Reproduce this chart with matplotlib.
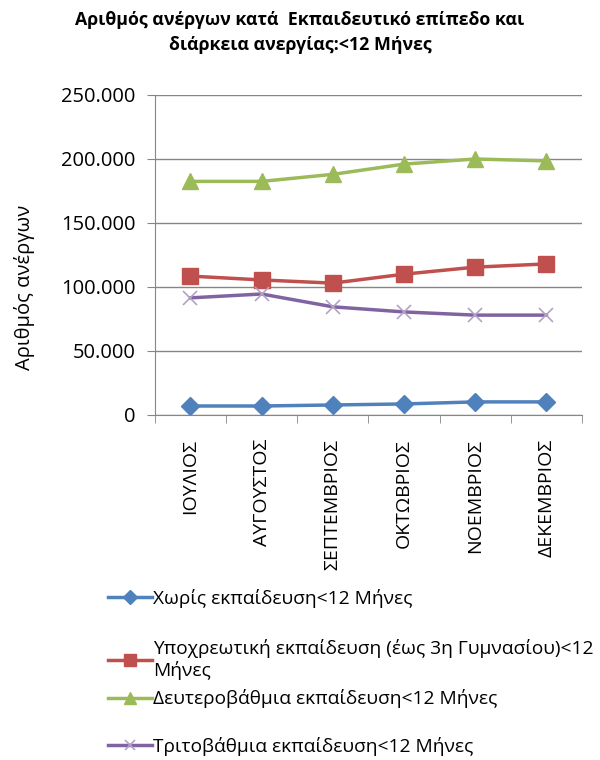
import matplotlib.pyplot as plt
from matplotlib.ticker import FuncFormatter, FixedLocator
from matplotlib.lines import Line2D

plt.rcParams['font.family'] = ['Open Sans', 'DejaVu Sans']

months = ['ΙΟΥΛΙΟΣ', 'ΑΥΓΟΥΣΤΟΣ', 'ΣΕΠΤΕΜΒΡΙΟΣ', 'ΟΚΤΩΒΡΙΟΣ', 'ΝΟΕΜΒΡΙΟΣ', 'ΔΕΚΕΜΒΡΙΟΣ']
no_edu = [7000, 7000, 7800, 8600, 10200, 10200]
compulsory = [108500, 105500, 103000, 110000, 115500, 118000]
secondary = [182500, 182500, 188000, 196000, 200000, 198500]
tertiary = [91500, 94500, 84500, 80500, 78000, 78000]

labels = ['Χωρίς εκπαίδευση<12 Μήνες',
          'Υποχρεωτική εκπαίδευση (έως 3η Γυμνασίου)<12\nΜήνες',
          'Δευτεροβάθμια εκπαίδευση<12 Μήνες',
          'Τριτοβάθμια εκπαίδευση<12 Μήνες']

fig = plt.figure(figsize=(6, 7.6), dpi=100)
ax = fig.add_axes([0.258, 0.454, 0.712, 0.421])

x = list(range(len(months)))
l1, = ax.plot(x, no_edu, color='#4F81BD', lw=2.5, marker='D', ms=9,
              mfc='#4F81BD', mec='#4F81BD')
l2, = ax.plot(x, compulsory, color='#C0504D', lw=2.5, marker='s', ms=11,
              mfc='#C0504D', mec='#C0504D')
l3, = ax.plot(x, secondary, color='#9BBB59', lw=2.5, marker='^', ms=12,
              mfc='#9BBB59', mec='#9BBB59')
l4, = ax.plot(x, tertiary, color='#8064A2', lw=2.5, marker='x', ms=10,
              mec='#B3A2C7', mew=1.2)

ax.set_xlim(-0.5, len(months) - 0.5)
ax.set_ylim(0, 250000)
ax.set_yticks(range(0, 250001, 50000))
ax.yaxis.set_major_formatter(FuncFormatter(lambda v, p: f'{int(v):,}'.replace(',', '.')))
ax.grid(axis='y', color='#868686', lw=1)
ax.set_axisbelow(True)

ax.set_xticks(x)
ax.set_xticklabels(months, rotation=90, fontsize=14)
ax.xaxis.set_minor_locator(FixedLocator([i - 0.5 for i in range(len(months) + 1)]))
ax.tick_params(axis='x', which='major', length=0, pad=17)
ax.tick_params(axis='x', which='minor', length=6, color='#868686')
ax.tick_params(axis='y', length=6, color='#868686', labelsize=14.5, pad=8)

for s in ['top', 'right']:
    ax.spines[s].set_visible(False)
for s in ['left', 'bottom']:
    ax.spines[s].set_color('#868686')

ax.set_ylabel('Αριθμός ανέργων', fontsize=14.5)
ax.yaxis.set_label_coords(-0.28, 0.4)

fig.text(0.5, 0.985, 'Αριθμός ανέργων κατά  Εκπαιδευτικό επίπεδο και\nδιάρκεια ανεργίας:<12 Μήνες',
         ha='center', va='top', fontsize=12.8, fontweight='bold', linespacing=1.5)

handles = [l1, l2, l3, l4]
ys = [1 - 598 / 760, 1 - 660 / 760, 1 - 699 / 760, 1 - 746 / 760]
for h, lab, yy in zip(handles, labels, ys):
    hh = Line2D([], [], color=h.get_color(), lw=2.5, marker=h.get_marker(),
                ms=h.get_markersize() * 0.75, mfc=h.get_markerfacecolor(),
                mec=h.get_markeredgecolor(), mew=h.get_markeredgewidth())
    fig.legend(handles=[hh], labels=[lab], loc='center left',
               bbox_to_anchor=(0.18, yy), frameon=False, fontsize=13.8,
               handlelength=2.3, handletextpad=0.05, borderaxespad=0,
               borderpad=0, labelspacing=0)

fig.savefig('out.png', dpi=100)
